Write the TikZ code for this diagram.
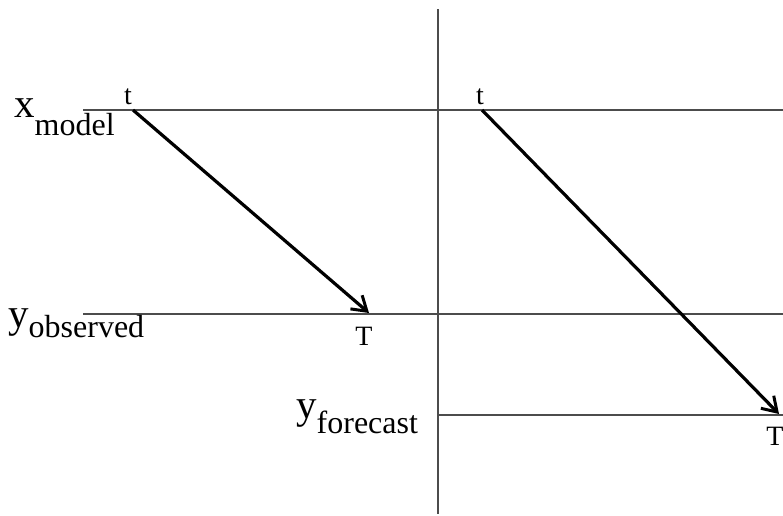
\documentclass[tikz,border=0pt]{standalone}
\usepackage{fontspec}
\setmainfont{Liberation Serif}
\usetikzlibrary{arrows.meta}
\newcommand{\mainsz}{\fontsize{41}{41}\selectfont}
\newcommand{\subsz}{\fontsize{32}{32}\selectfont}
\newcommand{\lblsz}{\fontsize{28}{28}\selectfont}
\tikzset{
  thinline/.style={draw=black!70, line width=1.3pt},
  arr/.style={draw=black, line width=3.2pt, -{Straight Barb[length=14pt,width=18pt,line width=3pt]}},
  lbl/.style={inner sep=0pt, anchor=base, font=\lblsz},
  varlbl/.style={inner sep=0pt, anchor=base west}
}
\begin{document}
\begin{tikzpicture}[x=1pt,y=-1pt]
\useasboundingbox (0,0) rectangle (783,515);
% axis and levels
\coordinate (vtop) at (438,9);
\coordinate (vbot) at (438,514);
\draw[thinline] (vtop) -- (vbot);
\coordinate (m0) at (83,110); \coordinate (m1) at (783,110);
\coordinate (o0) at (83,314); \coordinate (o1) at (783,314);
\coordinate (f0) at (438,415); \coordinate (f1) at (783,415);
\draw[thinline] (m0) -- (m1);
\draw[thinline] (o0) -- (o1);
\draw[thinline] (f0) -- (f1);
% arrows
\coordinate (a1s) at (133,110); \coordinate (a1e) at (369,313);
\coordinate (a2s) at (482,110); \coordinate (a2e) at (779,414);
\draw[arr] (a1s) -- (a1e);
\draw[arr] (a2s) -- (a2e);
% labels
\node[lbl] (t1) at (128,104) {t};
\node[lbl] (t2) at (480,104) {t};
\node[lbl] (T1) at (364,345) {T};
\node[lbl] (T2) at (775,445) {T};
\node[varlbl] (xm) at (14,117) {\mainsz x\raisebox{-18pt}{\subsz model}};
\node[varlbl] (yo) at (8,327) {\mainsz y\raisebox{-10pt}{\subsz observed}};
\node[varlbl] (yf) at (296,418) {\mainsz y\raisebox{-15pt}{\subsz forecast}};
\end{tikzpicture}
\end{document}
